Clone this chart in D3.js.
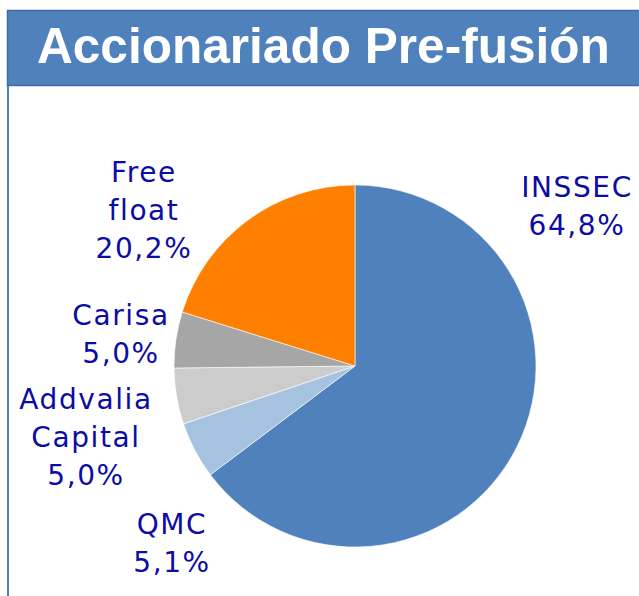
<!DOCTYPE html>
<html>
  <head>
    <meta charset="utf-8">
    <title>Accionariado Pre-fusión</title>
    <style>
      body { margin: 0; background: #fff; }
      svg { display: block; }
    </style>
  </head>
  <body>
  <div id="chart"></div>
  <script src="https://cdnjs.cloudflare.com/ajax/libs/d3/7.8.5/d3.min.js"></script>
  <script>
    // datos del gráfico
    var titulo = "Accionariado Pre-fusión";
    var accionistas = ["INSSEC", "QMC", "Addvalia Capital", "Carisa", "Free float"];
    var porcentajes = [64.8, 5.1, 5.0, 5.0, 20.2];
    var lineasEtiqueta = [["INSSEC"], ["QMC"], ["Addvalia", "Capital"], ["Carisa"], ["Free", "float"]];
    var colores = ["#4f81bd", "#a5c2e1", "#cccccc", "#a6a6a6", "#ff7f00"];

    // posición de las etiquetas respecto al centro de la tarta
    var posEtiqueta = [[221, -169], [-184, 168], [-270, 43], [-235, -41], [-212, -184]];

    var width = 639, height = 596;
    var cx = 355, cy = 366, radius = 181;

    var svg = d3.select("#chart")
                .append("svg")
                  .attr("width", width)
                  .attr("height", height);

    // cabecera
    svg.append("rect")
         .attr("x", 7.5)
         .attr("y", 10.5)
         .attr("width", 650)
         .attr("height", 75)
         .attr("fill", "#4f81bd")
         .attr("stroke", "#3e6ea6")
         .attr("stroke-width", 1.5);
    svg.append("line")
         .attr("x1", 8).attr("x2", 8)
         .attr("y1", 86).attr("y2", height)
         .attr("stroke", "#4f81bd")
         .attr("stroke-width", 2);

    var t = svg.append("text")
         .attr("x", 37)
         .attr("y", 63)
         .attr("fill", "#ffffff")
         .style("font-family", "'Liberation Sans', Arial, sans-serif")
         .style("font-weight", "bold")
         .style("font-size", "40px")
         .text(titulo);
    // ajustar el tamaño para ocupar el mismo ancho
    var w = t.node().getComputedTextLength();
    t.style("font-size", (40 * 573 / w) + "px");

    // tarta
    var pie = d3.pie().sort(null).value(function (d) { return d; });
    var arc = d3.arc().innerRadius(0).outerRadius(radius);
    var g = svg.append("g").attr("transform", `translate(${cx}, ${cy})`);

    g.selectAll("path")
      .data(pie(porcentajes))
      .enter()
      .append("path")
        .attr("d", arc)
        .attr("fill", function (d, i) { return colores[i]; })
        .attr("stroke", "#ffffff")
        .attr("stroke-width", 0.6);

    // etiquetas
    var fmt = function (v) { return v.toFixed(1).replace(".", ",") + "%"; };
    var lineH = 38;
    accionistas.forEach(function (nombre, i) {
      var lineas = lineasEtiqueta[i].concat([fmt(porcentajes[i])]);
      var txt = g.append("text")
        .attr("text-anchor", "middle")
        .attr("fill", "#0b0ba6")
        .style("font-family", "'DejaVu Sans', Verdana, sans-serif")
        .style("font-size", "28px")
        .style("letter-spacing", "1.6px");
      lineas.forEach(function (l, j) {
        txt.append("tspan")
          .attr("x", posEtiqueta[i][0] + 1)
          .attr("y", posEtiqueta[i][1] + j * lineH)
          .text(l);
      });
    });
  </script>
  </body>
</html>
